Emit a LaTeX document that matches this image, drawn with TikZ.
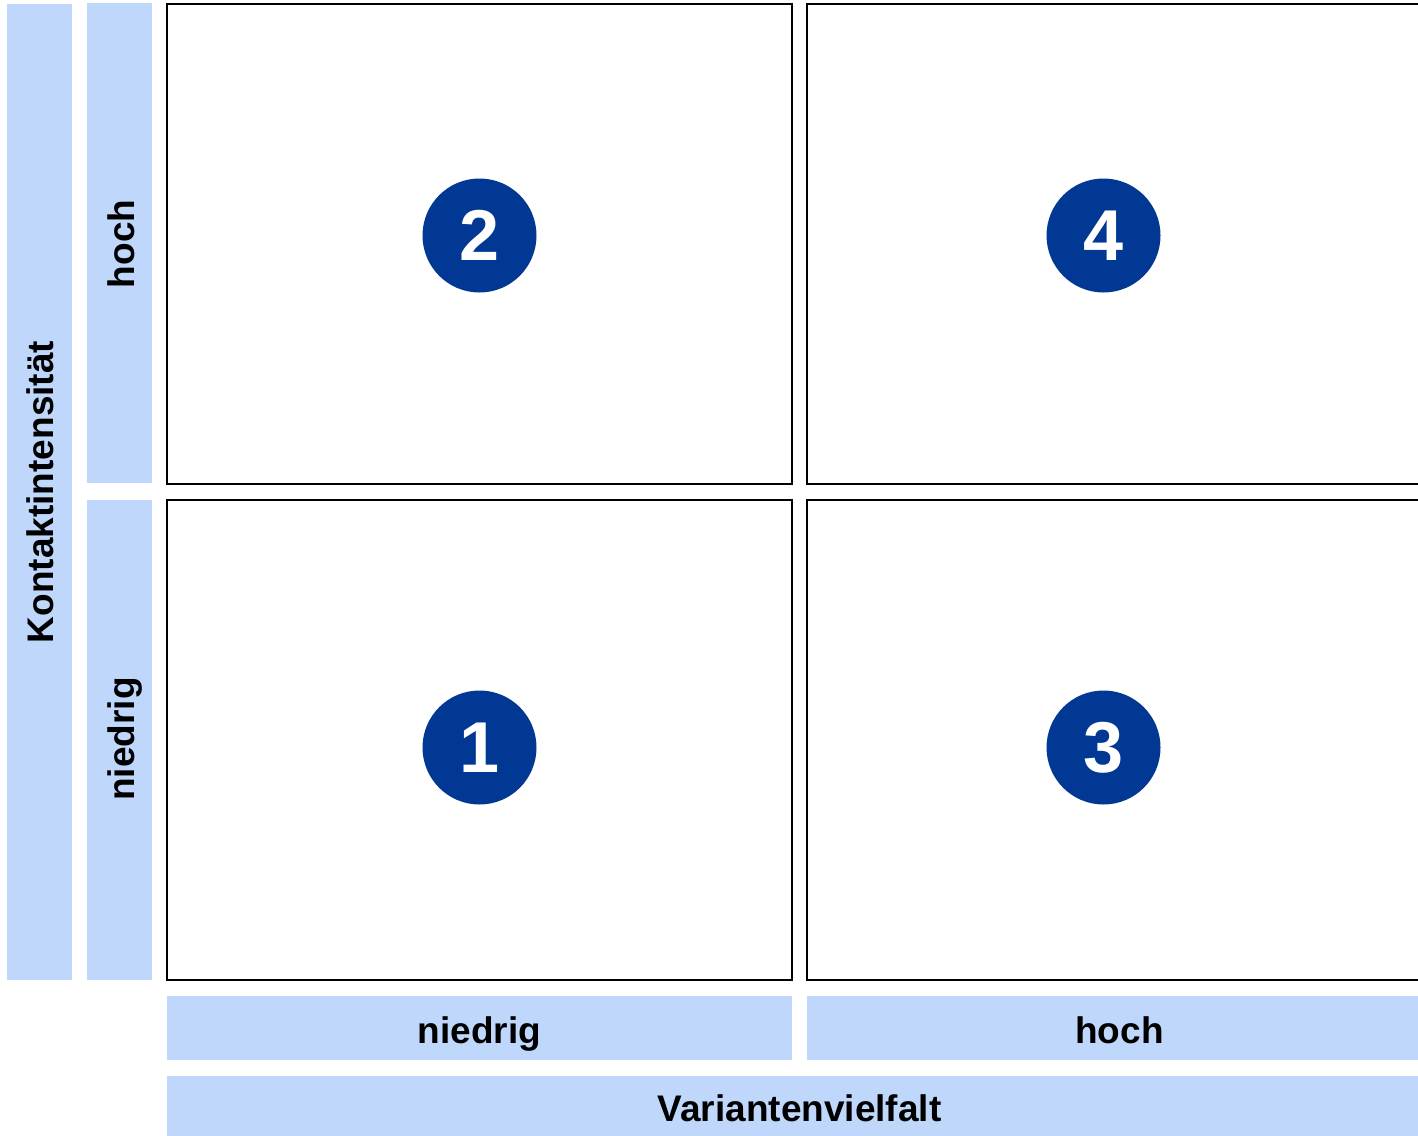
\documentclass[tikz,border=0pt]{standalone}
\usepackage{fontspec}
\setmainfont{Liberation Sans}
\definecolor{lblue}{RGB}{191,215,250}
\definecolor{dblue}{RGB}{0,56,147}
\begin{document}
\begin{tikzpicture}[x=1pt,y=-1pt,
  lbl/.style={inner sep=0pt,anchor=base,font=\bfseries\fontsize{37}{40}\selectfont},
  cell/.style={draw=black,line width=2pt,fill=white,inner sep=0pt},
  badge/.style={circle,fill=dblue,text=white,inner sep=0pt,minimum size=114pt,font=\bfseries\fontsize{72}{80}\selectfont}]
\useasboundingbox (0,0) rectangle (1418,1135);
\clip (0,0) rectangle (1418,1135);
% left bars
\fill[lblue] (7,4) rectangle (72,980);
\node[lbl,rotate=90] (kontakt) at (53,492) {Kontaktintensität};
\fill[lblue] (87,3) rectangle (152,483);
\node[lbl,rotate=90] (lhoch) at (134,244) {hoch};
\fill[lblue] (87,500) rectangle (152,980);
\node[lbl,rotate=90] (lnied) at (134,739) {niedrig};
% cells
\draw[cell] (167,4) rectangle (792,484);
\draw[cell] (807,4) rectangle (1432,484);
\draw[cell] (167,500) rectangle (792,980);
\draw[cell] (807,500) rectangle (1432,980);
% badges
\node[badge] (b2) at (479.5,235.5) {2};
\node[badge] (b4) at (1103.5,235.5) {4};
\node[badge] (b1) at (479.5,747.5) {1};
\node[badge] (b3) at (1103.5,747.5) {3};
% bottom bars
\fill[lblue] (167,996) rectangle (792,1060);
\node[lbl] (bnied) at (479.5,1043) {niedrig};
\fill[lblue] (807,996) rectangle (1432,1060);
\node[lbl] (bhoch) at (1119.5,1043) {hoch};
\fill[lblue] (167,1076) rectangle (1432,1140);
\node[lbl] (var) at (799.5,1121) {Variantenvielfalt};
\end{tikzpicture}
\end{document}
